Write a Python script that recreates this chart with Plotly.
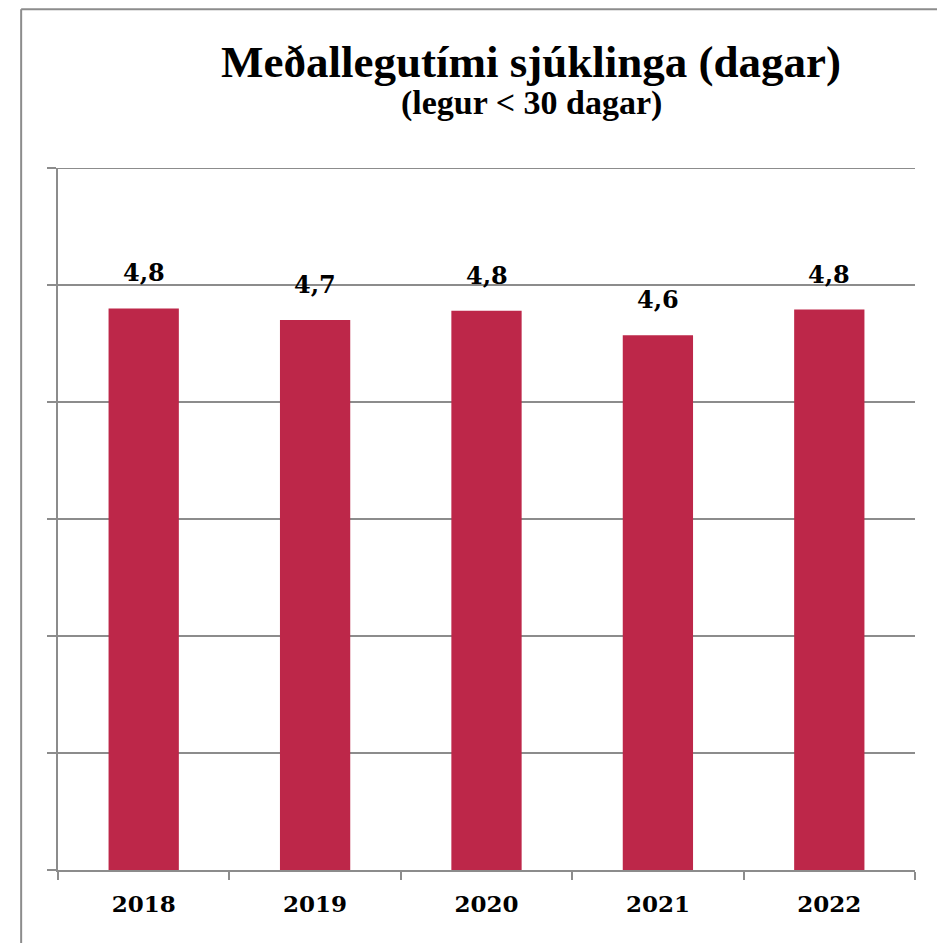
import plotly.graph_objects as go

years = ["2018", "2019", "2020", "2021", "2022"]
avg_days = [4.80, 4.70, 4.78, 4.57, 4.79]
labels = [f"{v:.1f}".replace(".", ",") for v in avg_days]
y_max = 6

BAR = "#BD2749"
GRID = "#8C8C8C"
SERIF = "DejaVu Serif, Georgia, serif"

fig = go.Figure()
fig.add_trace(
    go.Bar(
        x=years,
        y=avg_days,
        marker=dict(color=BAR, line=dict(width=0)),
        hoverinfo="skip",
    )
)

# value labels above bars (category axis -> use index positions)
for i, (v, lab) in enumerate(zip(avg_days, labels)):
    fig.add_annotation(
        x=i, y=v, text=f"<b>{lab}</b>", showarrow=False,
        yanchor="bottom", yshift=19,
        font=dict(family=SERIF, size=24, color="black"),
    )

# title + subtitle
fig.add_annotation(
    xref="paper", yref="paper", x=0.552, y=1.151, yanchor="middle",
    text="<b>Meðallegutími sjúklinga (dagar)</b>", showarrow=False,
    font=dict(family="Liberation Serif, serif", size=45, color="black"),
)
fig.add_annotation(
    xref="paper", yref="paper", x=0.552, y=1.092, yanchor="middle",
    text="<b>(legur &lt; 30 dagar)</b>", showarrow=False,
    font=dict(family="Liberation Serif, serif", size=34, color="black"),
)

# top gridline (plotly hides the one on the plot edge)
fig.add_shape(type="line", xref="paper", yref="y",
              x0=0, x1=1, y0=y_max, y1=y_max,
              line=dict(color=GRID, width=2))

# outer frame (top and left edges)
fig.add_shape(type="line", xref="paper", yref="paper",
              x0=-0.043, x1=1.1, y0=1.226, y1=1.226,
              line=dict(color=GRID, width=2))
fig.add_shape(type="line", xref="paper", yref="paper",
              x0=-0.043, x1=-0.043, y0=1.226, y1=-0.12,
              line=dict(color=GRID, width=2))

fig.update_layout(
    width=945,
    height=943,
    margin=dict(l=50, r=38, t=160, b=81),
    paper_bgcolor="white",
    plot_bgcolor="white",
    showlegend=False,
    bargap=0.59,
    xaxis=dict(
        type="category",
        categoryorder="array", categoryarray=years,
        range=[-0.5, len(years) - 0.5],
        showline=True, linecolor=GRID, linewidth=2,
        ticks="outside", tickson="boundaries", ticklen=8,
        tickcolor=GRID, tickwidth=2,
        tickfont=dict(family=SERIF, size=23, color="black"),
        tickprefix="<b>", ticksuffix="</b>",
        ticklabelstandoff=12,
        showgrid=False,
    ),
    yaxis=dict(
        range=[0, y_max], dtick=1,
        showticklabels=False,
        showgrid=True, gridcolor=GRID, gridwidth=2,
        showline=True, linecolor=GRID, linewidth=2,
        ticks="outside", ticklen=9, tickcolor=GRID, tickwidth=2,
        zeroline=False,
    ),
)

fig.write_html("out.html")
